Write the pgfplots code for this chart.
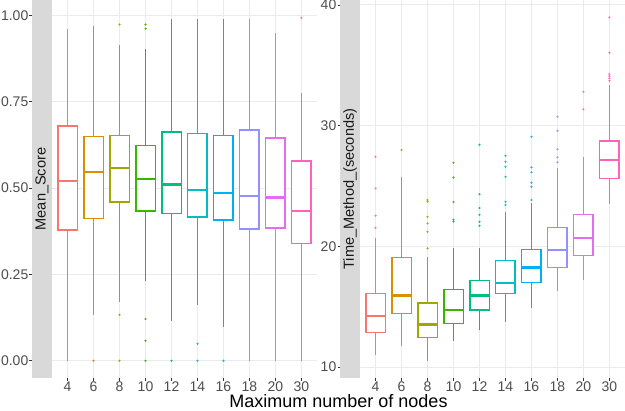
\documentclass[border=0pt]{standalone}
\usepackage{fontspec}
\setmainfont{Liberation Sans}
\usepackage{pgfplots}
\pgfplotsset{compat=1.18}

\definecolor{c1}{HTML}{F8766D}
\definecolor{c2}{HTML}{D89000}
\definecolor{c3}{HTML}{A3A500}
\definecolor{c4}{HTML}{39B600}
\definecolor{c5}{HTML}{00BF7D}
\definecolor{c6}{HTML}{00BFC4}
\definecolor{c7}{HTML}{00B0F6}
\definecolor{c8}{HTML}{9590FF}
\definecolor{c9}{HTML}{E76BF3}
\definecolor{c10}{HTML}{FF62BC}
\definecolor{gridgray}{HTML}{EBEBEB}
\definecolor{stripgray}{HTML}{D9D9D9}
\definecolor{labgray}{HTML}{4D4D4D}
\definecolor{tickgray}{HTML}{333333}

\newcommand{\ticks}{\fontsize{14}{17}\selectfont}

\pgfplotsset{
  panel/.style={
    scale only axis, width=265pt, height=378pt,
    xmin=0.4, xmax=10.6,
    axis line style={draw=none},
    xtick={1,...,10},
    xticklabels={4,6,8,10,12,14,16,18,20,30},
    tick align=outside,
    major tick length=3pt,
    x tick style={draw=tickgray, line width=0.8pt},
    y tick style={draw=none},
    yticklabels={},
    xmajorgrids, ymajorgrids,
    major grid style={draw=gridgray, line width=0.9pt},
    xticklabel style={font=\ticks, text=labgray, inner sep=0pt, anchor=north, yshift=-1pt},
  },
  strip/.style={
    scale only axis, width=20pt, height=378pt,
    xmin=0, xmax=1,
    axis x line=none, axis y line*=left,
    y axis line style={draw=none},
    tick align=outside,
    major tick length=2.5pt,
    y tick style={draw=tickgray, line width=0.8pt},
    axis background/.style={fill=stripgray},
    yticklabel style={font=\ticks, text=labgray, inner sep=0pt, xshift=-1pt},
  },
  w/.style={draw=#1, line width=1.5pt, mark=none},
  bb/.style={draw=#1, fill=white, line width=1.5pt, mark=none, line join=miter},
  md/.style={draw=#1, line width=2.5pt, mark=none},
  ol/.style={color=#1, only marks, mark=*, mark size=0.85pt, mark options={fill=#1, draw=none, fill opacity=0.8}},
}

% colour, position, box left, box right, lower whisker, lower quartile, median, upper quartile, upper whisker
\newcommand{\bxp}[9]{%
  \addplot[w=#1] coordinates {(#2,#5) (#2,#9)};
  \addplot[bb=#1] coordinates {(#3,#6) (#4,#6) (#4,#8) (#3,#8)} -- cycle;
  \addplot[md=#1] coordinates {(#3,#7) (#4,#7)};
}

\begin{document}
\begin{tikzpicture}
\useasboundingbox (0,0) rectangle (625pt,411pt);

% ---------- left strip / y axis ----------
\begin{axis}[strip, at={(32pt,33pt)}, anchor=south west,
  ymin=-0.05, ymax=1.045,
  ytick={0,0.25,0.5,0.75,1},
  yticklabels={0.00,0.25,0.50,0.75,1.00}]
  \node[rotate=90, font=\fontsize{14.6}{17}\selectfont, text=black!90] at (rel axis cs:0.5,0.5) {Mean\_Score};
\end{axis}

% ---------- left panel ----------
\begin{axis}[panel, at={(52pt,33pt)}, anchor=south west,
  ymin=-0.05, ymax=1.045, ytick={0,0.25,0.5,0.75,1}]
\bxp{c1}{1}{0.625}{1.375}{0}{0.379}{0.521}{0.680}{0.960}
\bxp{c2}{2}{1.625}{2.375}{0.133}{0.412}{0.546}{0.650}{0.971}
\addplot[ol=c2] coordinates {(2,0)};
\bxp{c3}{3}{2.625}{3.375}{0.171}{0.460}{0.559}{0.653}{0.916}
\addplot[ol=c3] coordinates {(3,0.974) (3,0.133) (3,0)};
\bxp{c4}{4}{3.625}{4.375}{0.231}{0.434}{0.526}{0.624}{0.904}
\addplot[ol=c4] coordinates {(4,0.974) (4,0.962) (4,0.121) (4,0.058) (4,0)};
\bxp{c5}{5}{4.625}{5.375}{0.116}{0.427}{0.511}{0.663}{0.990}
\addplot[ol=c5] coordinates {(5,0)};
\bxp{c6}{6}{5.625}{6.375}{0.160}{0.417}{0.494}{0.658}{0.990}
\addplot[ol=c6] coordinates {(6,0.049) (6,0)};
\bxp{c7}{7}{6.625}{7.375}{0.099}{0.408}{0.486}{0.652}{0.990}
\addplot[ol=c7] coordinates {(7,0)};
\bxp{c8}{8}{7.625}{8.375}{0}{0.381}{0.477}{0.668}{0.990}
\bxp{c9}{9}{8.625}{9.375}{0}{0.385}{0.473}{0.645}{0.949}
\bxp{c10}{10}{9.625}{10.375}{0}{0.340}{0.434}{0.579}{0.776}
\addplot[ol=c10] coordinates {(10,0.993)};
\end{axis}

% ---------- right strip / y axis ----------
\begin{axis}[strip, at={(340pt,33pt)}, anchor=south west,
  ymin=9.09, ymax=40.41,
  ytick={10,20,30,40},
  yticklabels={10,20,30,40}]
  \node[rotate=90, font=\fontsize{14.6}{17}\selectfont, text=black!90] at (rel axis cs:0.5,0.5) {Time\_Method\_(seconds)};
\end{axis}

% ---------- right panel ----------
\begin{axis}[panel, at={(360pt,33pt)}, anchor=south west,
  ymin=9.09, ymax=40.41, ytick={10,20,30,40}]
\bxp{c1}{1}{0.625}{1.375}{10.99}{12.84}{14.23}{16.10}{20.66}
\addplot[ol=c1] coordinates {(1,27.42) (1,24.80) (1,22.54) (1,21.54)};
\bxp{c2}{2}{1.625}{2.375}{11.74}{14.45}{15.91}{19.09}{25.77}
\addplot[ol=c2] coordinates {(2,27.98)};
\bxp{c3}{3}{2.625}{3.375}{10.52}{12.43}{13.54}{15.30}{19.14}
\addplot[ol=c3] coordinates {(3,23.84) (3,23.70) (3,22.45) (3,21.90) (3,21.21) (3,19.83)};
\bxp{c4}{4}{3.625}{4.375}{12.13}{13.62}{14.72}{16.44}{19.83}
\addplot[ol=c4] coordinates {(4,26.93) (4,25.71) (4,23.67) (4,22.20) (4,22.05)};
\bxp{c5}{5}{4.625}{5.375}{13.04}{14.72}{15.91}{17.15}{19.83}
\addplot[ol=c5] coordinates {(5,28.42) (5,24.31) (5,23.17) (5,22.62) (5,22.04) (5,21.71)};
\bxp{c6}{6}{5.625}{6.375}{13.73}{16.10}{16.96}{18.81}{22.87}
\addplot[ol=c6] coordinates {(6,27.51) (6,27.01) (6,26.60) (6,25.77) (6,23.70) (6,23.42)};
\bxp{c7}{7}{6.625}{7.375}{14.91}{17.02}{18.23}{19.75}{23.61}
\addplot[ol=c7] coordinates {(7,29.08) (7,26.54) (7,26.13) (7,25.27) (7,24.94) (7,23.84)};
\bxp{c8}{8}{7.625}{8.375}{16.32}{18.26}{19.69}{21.57}{26.46}
\addplot[ol=c8] coordinates {(8,30.74) (8,29.57) (8,28.04) (8,27.37) (8,26.96)};
\bxp{c9}{9}{8.625}{9.375}{17.21}{19.25}{20.69}{22.62}{27.42}
\addplot[ol=c9] coordinates {(9,32.81) (9,31.35)};
\bxp{c10}{10}{9.625}{10.375}{23.50}{25.60}{27.15}{28.72}{33.36}
\addplot[ol=c10] coordinates {(10,38.97) (10,36.04) (10,34.27) (10,34.10) (10,33.92) (10,33.72)};
\end{axis}

\node[anchor=base, font=\fontsize{18}{21}\selectfont, text=black] at (338.5pt,3pt) {Maximum number of nodes};
\end{tikzpicture}
\end{document}
